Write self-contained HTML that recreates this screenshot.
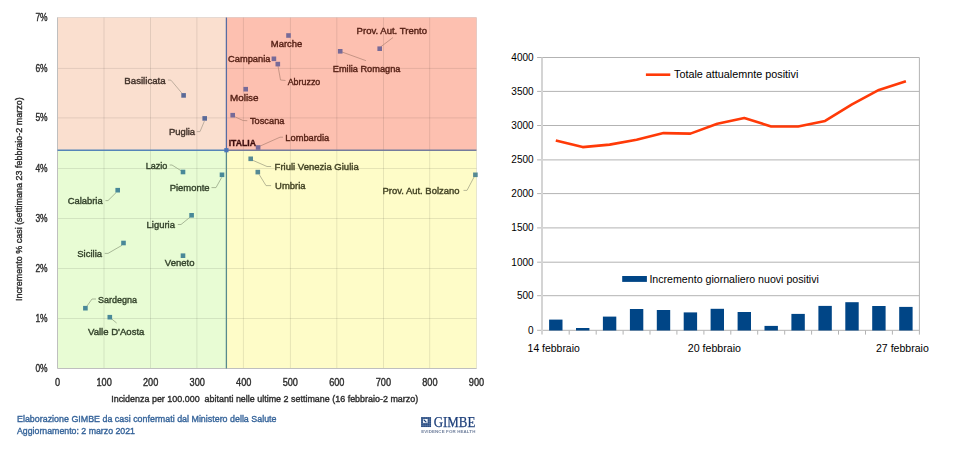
<!DOCTYPE html><html><head><meta charset="utf-8"><style>html,body{margin:0;padding:0;background:#fff;}svg{display:block;}text{font-family:"Liberation Sans",sans-serif;}</style></head><body>
<svg width="980" height="450" viewBox="0 0 980 450">
<defs><filter id="bl" x="0" y="0" width="500" height="450" filterUnits="userSpaceOnUse"><feGaussianBlur stdDeviation="0.32"/></filter></defs>
<rect width="980" height="450" fill="#fff"/>
<g filter="url(#bl)"><rect x="0" y="0" width="500" height="450" fill="#fff"/>
<rect x="57.5" y="17.5" width="168.9" height="132.7" fill="#fadfcf"/>
<rect x="226.4" y="17.5" width="250.1" height="132.7" fill="#fdc0b0"/>
<rect x="57.5" y="150.2" width="168.9" height="218.3" fill="#e8fcd4"/>
<rect x="226.4" y="150.2" width="250.1" height="218.3" fill="#fefcc8"/>
<path d="M104.0 17.5V368.5 M150.5 17.5V368.5 M196.9 17.5V368.5 M243.4 17.5V368.5 M290.4 17.5V368.5 M336.8 17.5V368.5 M383.5 17.5V368.5 M429.7 17.5V368.5 M57.5 318.5H476.5 M57.5 268.5H476.5 M57.5 218.5H476.5 M57.5 168.5H476.5 M57.5 117.9H476.5 M57.5 68.4H476.5" stroke="#000" stroke-opacity="0.095" stroke-width="1" fill="none"/>
<path d="M57.5 17.5V368.5H476.5" stroke="#bfbfbf" stroke-width="1" fill="none"/>
<path d="M57.5 17.5H476.5V368.5" stroke="#000" stroke-opacity="0.09" stroke-width="1" fill="none"/>
<path d="M226.4 17.5V150.2" stroke="#586ca2" stroke-width="1.3" fill="none"/>
<path d="M226.4 150.2V368.5" stroke="#588a8c" stroke-width="1.3" fill="none"/>
<path d="M57.5 150.2H226.4" stroke="#5585b8" stroke-width="1.5" fill="none"/>
<path d="M226.4 150.2H476.5" stroke="#747c9c" stroke-width="1.5" fill="none"/>
<path d="M380.5 47 L393 37.5" stroke="#c09080" stroke-width="0.9" fill="none"/>
<path d="M342 52 L366 60.7" stroke="#c09080" stroke-width="0.9" fill="none"/>
<path d="M278 66 L280.5 80 L285.5 80.5" stroke="#c09080" stroke-width="0.9" fill="none"/>
<path d="M234.7 116.7 L243 120.5 L247.3 120.7" stroke="#c09080" stroke-width="0.9" fill="none"/>
<path d="M258.7 146.7 L280 137.2 L283 137.2" stroke="#c09080" stroke-width="0.9" fill="none"/>
<path d="M167.9 80 L171 80.2 L182.1 93.4" stroke="#b8a898" stroke-width="0.9" fill="none"/>
<path d="M196.7 131.6 L200 131.6 L204.4 121.1" stroke="#b8a898" stroke-width="0.9" fill="none"/>
<path d="M169.7 165 L172 165 L181.2 170.8" stroke="#a0b090" stroke-width="0.9" fill="none"/>
<path d="M211.5 187.6 L216 187.6 L221.7 177.4" stroke="#a0b090" stroke-width="0.9" fill="none"/>
<path d="M105.5 200.6 L108 200.6 L116.2 192.5" stroke="#a0b090" stroke-width="0.9" fill="none"/>
<path d="M177.8 224.5 L181 224.5 L189.9 217.3" stroke="#a0b090" stroke-width="0.9" fill="none"/>
<path d="M104.7 253.4 L108 253.4 L122 245.3" stroke="#a0b090" stroke-width="0.9" fill="none"/>
<path d="M96 299 L92 299 L87 306" stroke="#a0b090" stroke-width="0.9" fill="none"/>
<path d="M111 318.4 L116.6 323" stroke="#a0b090" stroke-width="0.9" fill="none"/>
<path d="M252.5 160.2 L267 166.5 L271.1 166.5" stroke="#b0b090" stroke-width="0.9" fill="none"/>
<path d="M259.2 174.5 L266 185.6 L271.1 185.6" stroke="#b0b090" stroke-width="0.9" fill="none"/>
<path d="M463.5 190.4 L467 190.4 L474 177.1" stroke="#b0b090" stroke-width="0.9" fill="none"/>
<rect x="377.4" y="46.4" width="4.6" height="4.6" fill="#776a98"/>
<rect x="286.2" y="33.2" width="4.6" height="4.6" fill="#776a98"/>
<rect x="271.6" y="56.5" width="4.6" height="4.6" fill="#776a98"/>
<rect x="337.9" y="49.0" width="4.6" height="4.6" fill="#776a98"/>
<rect x="275.5" y="61.8" width="4.6" height="4.6" fill="#776a98"/>
<rect x="243.4" y="86.9" width="4.6" height="4.6" fill="#776a98"/>
<rect x="230.4" y="112.9" width="4.6" height="4.6" fill="#776a98"/>
<rect x="255.8" y="145.2" width="4.6" height="4.6" fill="#776a98"/>
<rect x="181.3" y="93.1" width="4.6" height="4.6" fill="#5a6a98"/>
<rect x="202.4" y="116.1" width="4.6" height="4.6" fill="#5a6a98"/>
<rect x="180.7" y="169.7" width="4.6" height="4.6" fill="#488898"/>
<rect x="219.7" y="172.5" width="4.6" height="4.6" fill="#488898"/>
<rect x="115.4" y="187.9" width="4.6" height="4.6" fill="#488898"/>
<rect x="189.3" y="213.0" width="4.6" height="4.6" fill="#488898"/>
<rect x="121.2" y="240.7" width="4.6" height="4.6" fill="#488898"/>
<rect x="180.7" y="253.4" width="4.6" height="4.6" fill="#488898"/>
<rect x="83.1" y="305.9" width="4.6" height="4.6" fill="#488898"/>
<rect x="107.5" y="314.9" width="4.6" height="4.6" fill="#488898"/>
<rect x="248.4" y="156.5" width="4.6" height="4.6" fill="#568a94"/>
<rect x="255.5" y="169.8" width="4.6" height="4.6" fill="#568a94"/>
<rect x="473.1" y="172.5" width="4.6" height="4.6" fill="#568a94"/>
<rect x="224.3" y="148.1" width="4.2" height="4.2" fill="#4a75b8"/>
<text x="356.6" y="33.5" font-size="9.2" fill="#541f14" stroke="#541f14" stroke-width="0.38" textLength="70.4" lengthAdjust="spacingAndGlyphs">Prov. Aut. Trento</text>
<text x="270.8" y="47.0" font-size="9.2" fill="#541f14" stroke="#541f14" stroke-width="0.38" textLength="31.4" lengthAdjust="spacingAndGlyphs">Marche</text>
<text x="228.0" y="62.0" font-size="9.2" fill="#541f14" stroke="#541f14" stroke-width="0.38" textLength="42.4" lengthAdjust="spacingAndGlyphs">Campania</text>
<text x="332.8" y="72.0" font-size="9.2" fill="#541f14" stroke="#541f14" stroke-width="0.38" textLength="67.6" lengthAdjust="spacingAndGlyphs">Emilia Romagna</text>
<text x="287.7" y="84.9" font-size="9.2" fill="#541f14" stroke="#541f14" stroke-width="0.38" textLength="32.6" lengthAdjust="spacingAndGlyphs">Abruzzo</text>
<text x="230.0" y="100.6" font-size="9.2" fill="#541f14" stroke="#541f14" stroke-width="0.38" textLength="28.5" lengthAdjust="spacingAndGlyphs">Molise</text>
<text x="250.0" y="124.2" font-size="9.2" fill="#541f14" stroke="#541f14" stroke-width="0.38" textLength="34.4" lengthAdjust="spacingAndGlyphs">Toscana</text>
<text x="285.3" y="141.2" font-size="9.2" fill="#541f14" stroke="#541f14" stroke-width="0.38" textLength="44.0" lengthAdjust="spacingAndGlyphs">Lombardia</text>
<text x="124.3" y="83.6" font-size="9.2" fill="#42322a" stroke="#42322a" stroke-width="0.38" textLength="41.4" lengthAdjust="spacingAndGlyphs">Basilicata</text>
<text x="168.9" y="134.7" font-size="9.2" fill="#42322a" stroke="#42322a" stroke-width="0.38" textLength="26.2" lengthAdjust="spacingAndGlyphs">Puglia</text>
<text x="145.7" y="169.3" font-size="9.2" fill="#33422b" stroke="#33422b" stroke-width="0.38" textLength="21.7" lengthAdjust="spacingAndGlyphs">Lazio</text>
<text x="169.7" y="190.7" font-size="9.2" fill="#33422b" stroke="#33422b" stroke-width="0.38" textLength="39.9" lengthAdjust="spacingAndGlyphs">Piemonte</text>
<text x="67.7" y="203.7" font-size="9.2" fill="#33422b" stroke="#33422b" stroke-width="0.38" textLength="35.0" lengthAdjust="spacingAndGlyphs">Calabria</text>
<text x="146.6" y="227.6" font-size="9.2" fill="#33422b" stroke="#33422b" stroke-width="0.38" textLength="28.3" lengthAdjust="spacingAndGlyphs">Liguria</text>
<text x="77.2" y="257.1" font-size="9.2" fill="#33422b" stroke="#33422b" stroke-width="0.38" textLength="24.9" lengthAdjust="spacingAndGlyphs">Sicilia</text>
<text x="164.8" y="265.8" font-size="9.2" fill="#33422b" stroke="#33422b" stroke-width="0.38" textLength="29.7" lengthAdjust="spacingAndGlyphs">Veneto</text>
<text x="98.0" y="302.7" font-size="9.2" fill="#33422b" stroke="#33422b" stroke-width="0.38" textLength="39.0" lengthAdjust="spacingAndGlyphs">Sardegna</text>
<text x="88.0" y="334.7" font-size="9.2" fill="#33422b" stroke="#33422b" stroke-width="0.38" textLength="56.4" lengthAdjust="spacingAndGlyphs">Valle D&#39;Aosta</text>
<text x="274.6" y="169.6" font-size="9.2" fill="#434324" stroke="#434324" stroke-width="0.38" textLength="84.1" lengthAdjust="spacingAndGlyphs">Friuli Venezia Giulia</text>
<text x="275.1" y="188.7" font-size="9.2" fill="#434324" stroke="#434324" stroke-width="0.38" textLength="30.5" lengthAdjust="spacingAndGlyphs">Umbria</text>
<text x="382.5" y="194.1" font-size="9.2" fill="#434324" stroke="#434324" stroke-width="0.38" textLength="77.0" lengthAdjust="spacingAndGlyphs">Prov. Aut. Bolzano</text>
<text x="228.7" y="146.2" font-size="8.6" font-weight="bold" fill="#3e0e0e" stroke="#3e0e0e" stroke-width="0.3" textLength="27.3" lengthAdjust="spacingAndGlyphs">ITALIA</text>
<text x="47.6" y="372.0" font-size="10" fill="#2e2e2e" stroke="#2e2e2e" stroke-width="0.38" text-anchor="end" textLength="12.2" lengthAdjust="spacingAndGlyphs">0%</text>
<text x="47.6" y="322.0" font-size="10" fill="#2e2e2e" stroke="#2e2e2e" stroke-width="0.38" text-anchor="end" textLength="12.2" lengthAdjust="spacingAndGlyphs">1%</text>
<text x="47.6" y="272.0" font-size="10" fill="#2e2e2e" stroke="#2e2e2e" stroke-width="0.38" text-anchor="end" textLength="12.2" lengthAdjust="spacingAndGlyphs">2%</text>
<text x="47.6" y="222.0" font-size="10" fill="#2e2e2e" stroke="#2e2e2e" stroke-width="0.38" text-anchor="end" textLength="12.2" lengthAdjust="spacingAndGlyphs">3%</text>
<text x="47.6" y="172.0" font-size="10" fill="#2e2e2e" stroke="#2e2e2e" stroke-width="0.38" text-anchor="end" textLength="12.2" lengthAdjust="spacingAndGlyphs">4%</text>
<text x="47.6" y="121.4" font-size="10" fill="#2e2e2e" stroke="#2e2e2e" stroke-width="0.38" text-anchor="end" textLength="12.2" lengthAdjust="spacingAndGlyphs">5%</text>
<text x="47.6" y="71.9" font-size="10" fill="#2e2e2e" stroke="#2e2e2e" stroke-width="0.38" text-anchor="end" textLength="12.2" lengthAdjust="spacingAndGlyphs">6%</text>
<text x="47.6" y="21.0" font-size="10" fill="#2e2e2e" stroke="#2e2e2e" stroke-width="0.38" text-anchor="end" textLength="12.2" lengthAdjust="spacingAndGlyphs">7%</text>
<text x="57.5" y="385.9" font-size="10" fill="#2e2e2e" stroke="#2e2e2e" stroke-width="0.38" text-anchor="middle" textLength="5.1" lengthAdjust="spacingAndGlyphs">0</text>
<text x="104.1" y="385.9" font-size="10" fill="#2e2e2e" stroke="#2e2e2e" stroke-width="0.38" text-anchor="middle" textLength="15.3" lengthAdjust="spacingAndGlyphs">100</text>
<text x="150.6" y="385.9" font-size="10" fill="#2e2e2e" stroke="#2e2e2e" stroke-width="0.38" text-anchor="middle" textLength="15.3" lengthAdjust="spacingAndGlyphs">200</text>
<text x="197.2" y="385.9" font-size="10" fill="#2e2e2e" stroke="#2e2e2e" stroke-width="0.38" text-anchor="middle" textLength="15.3" lengthAdjust="spacingAndGlyphs">300</text>
<text x="243.7" y="385.9" font-size="10" fill="#2e2e2e" stroke="#2e2e2e" stroke-width="0.38" text-anchor="middle" textLength="15.3" lengthAdjust="spacingAndGlyphs">400</text>
<text x="290.3" y="385.9" font-size="10" fill="#2e2e2e" stroke="#2e2e2e" stroke-width="0.38" text-anchor="middle" textLength="15.3" lengthAdjust="spacingAndGlyphs">500</text>
<text x="336.8" y="385.9" font-size="10" fill="#2e2e2e" stroke="#2e2e2e" stroke-width="0.38" text-anchor="middle" textLength="15.3" lengthAdjust="spacingAndGlyphs">600</text>
<text x="383.4" y="385.9" font-size="10" fill="#2e2e2e" stroke="#2e2e2e" stroke-width="0.38" text-anchor="middle" textLength="15.3" lengthAdjust="spacingAndGlyphs">700</text>
<text x="429.9" y="385.9" font-size="10" fill="#2e2e2e" stroke="#2e2e2e" stroke-width="0.38" text-anchor="middle" textLength="15.3" lengthAdjust="spacingAndGlyphs">800</text>
<text x="476.5" y="385.9" font-size="10" fill="#2e2e2e" stroke="#2e2e2e" stroke-width="0.38" text-anchor="middle" textLength="15.3" lengthAdjust="spacingAndGlyphs">900</text>
<text x="111.2" y="402.1" font-size="9.2" fill="#2e2e2e" stroke="#2e2e2e" stroke-width="0.38" textLength="307" lengthAdjust="spacingAndGlyphs">Incidenza per 100.000&#160; abitanti nelle ultime 2 settimane (16 febbraio-2 marzo)</text>
<text transform="translate(21.9,301.1) rotate(-90)" x="0" y="0" font-size="9.2" fill="#2e2e2e" stroke="#2e2e2e" stroke-width="0.38" textLength="203.8" lengthAdjust="spacingAndGlyphs">Incremento % casi (settimana 23 febbraio-2 marzo)</text>
<text x="17" y="421.8" font-size="9.8" fill="#36649a" stroke="#36649a" stroke-width="0.38" textLength="259.5" lengthAdjust="spacingAndGlyphs">Elaborazione GIMBE da casi confermati dal Ministero della Salute</text>
<text x="17" y="433.8" font-size="9.8" fill="#36649a" stroke="#36649a" stroke-width="0.38" textLength="118" lengthAdjust="spacingAndGlyphs">Aggiornamento: 2 marzo 2021</text>
<rect x="421.0" y="417.0" width="10.1" height="10.1" fill="#9fb4d4"/><rect x="421.20" y="417.20" width="1.65" height="1.65" fill="#163a72"/><rect x="421.20" y="419.22" width="1.65" height="1.65" fill="#163a72"/><rect x="421.20" y="421.24" width="1.65" height="1.65" fill="#163a72"/><rect x="421.20" y="423.26" width="1.65" height="1.65" fill="#163a72"/><rect x="421.20" y="425.28" width="1.65" height="1.65" fill="#163a72"/><rect x="423.22" y="417.20" width="1.65" height="1.65" fill="#163a72"/><rect x="423.22" y="419.22" width="1.65" height="1.65" fill="#163a72"/><rect x="423.22" y="421.24" width="1.65" height="1.65" fill="#163a72"/><rect x="423.22" y="423.26" width="1.65" height="1.65" fill="#163a72"/><rect x="423.22" y="425.28" width="1.65" height="1.65" fill="#163a72"/><rect x="425.24" y="417.20" width="1.65" height="1.65" fill="#163a72"/><rect x="425.24" y="419.22" width="1.65" height="1.65" fill="#163a72"/><rect x="425.24" y="421.24" width="1.65" height="1.65" fill="#163a72"/><rect x="425.24" y="423.26" width="1.65" height="1.65" fill="#163a72"/><rect x="425.24" y="425.28" width="1.65" height="1.65" fill="#163a72"/><rect x="427.26" y="417.20" width="1.65" height="1.65" fill="#163a72"/><rect x="427.26" y="419.22" width="1.65" height="1.65" fill="#163a72"/><rect x="427.26" y="421.24" width="1.65" height="1.65" fill="#163a72"/><rect x="427.26" y="423.26" width="1.65" height="1.65" fill="#163a72"/><rect x="427.26" y="425.28" width="1.65" height="1.65" fill="#163a72"/><rect x="429.28" y="417.20" width="1.65" height="1.65" fill="#163a72"/><rect x="429.28" y="419.22" width="1.65" height="1.65" fill="#163a72"/><rect x="429.28" y="421.24" width="1.65" height="1.65" fill="#163a72"/><rect x="429.28" y="423.26" width="1.65" height="1.65" fill="#163a72"/><rect x="429.28" y="425.28" width="1.65" height="1.65" fill="#163a72"/><rect x="423.0" y="419.0" width="4.6" height="3.9" fill="#f4f8fc"/><path d="M424.0 420.0 L426.0 421.9" stroke="#163a72" stroke-width="1.1" stroke-linecap="round"/>
<text x="433.7" y="427.2" font-size="15.4" fill="#1d3f7a" stroke="#1d3f7a" stroke-width="0.25" textLength="41.6" lengthAdjust="spacingAndGlyphs" style="font-family:'Liberation Serif',serif">GIMBE</text>
<text x="421.2" y="432.7" font-size="4.4" font-weight="bold" fill="#6f7f9c" textLength="54.1" lengthAdjust="spacing">EVIDENCE FOR HEALTH</text>
</g>
<path d="M537.1 330.3H919.4 M537.1 295.7H919.4 M537.1 262.2H919.4 M537.1 227.9H919.4 M537.1 193.6H919.4 M537.1 159.9H919.4 M537.1 125.5H919.4 M537.1 91.4H919.4 M537.1 57.5H919.4" stroke="#b3b3b3" stroke-width="1" fill="none"/>
<path d="M919.4 57.5V334.6" stroke="#b3b3b3" stroke-width="1" fill="none"/>
<path d="M569.2 330.5V334.6M596.2 330.5V334.6M623.1 330.5V334.6M650.0 330.5V334.6M676.9 330.5V334.6M703.9 330.5V334.6M730.8 330.5V334.6M757.7 330.5V334.6M784.7 330.5V334.6M811.6 330.5V334.6M838.5 330.5V334.6M865.5 330.5V334.6M892.4 330.5V334.6" stroke="#b3b3b3" stroke-width="1" fill="none"/>
<path d="M542.0 57.5V334.6" stroke="#d4d4d4" stroke-width="2" fill="none"/>
<rect x="549.1" y="319.6" width="13.4" height="10.9" fill="#004586"/>
<rect x="576.0" y="328.0" width="13.4" height="2.5" fill="#004586"/>
<rect x="602.9" y="316.6" width="13.4" height="13.9" fill="#004586"/>
<rect x="629.9" y="309.0" width="13.4" height="21.5" fill="#004586"/>
<rect x="656.8" y="310.0" width="13.4" height="20.5" fill="#004586"/>
<rect x="683.7" y="312.4" width="13.4" height="18.1" fill="#004586"/>
<rect x="710.6" y="308.8" width="13.4" height="21.7" fill="#004586"/>
<rect x="737.6" y="312.0" width="13.4" height="18.5" fill="#004586"/>
<rect x="764.5" y="325.9" width="13.4" height="4.6" fill="#004586"/>
<rect x="791.4" y="313.9" width="13.4" height="16.6" fill="#004586"/>
<rect x="818.4" y="305.9" width="13.4" height="24.6" fill="#004586"/>
<rect x="845.3" y="302.2" width="13.4" height="28.3" fill="#004586"/>
<rect x="872.2" y="306.0" width="13.4" height="24.5" fill="#004586"/>
<rect x="899.2" y="306.9" width="13.4" height="23.6" fill="#004586"/>
<path d="M555.8 140.4 L582.7 147.1 L609.6 144.6 L636.6 139.7 L663.5 133.1 L690.4 133.6 L717.3 123.8 L744.3 118.0 L771.2 126.5 L798.1 126.5 L825.1 120.9 L852.0 104.3 L878.9 89.9 L905.9 81.3" stroke="#ff3a08" stroke-width="2.6" fill="none" stroke-linejoin="round"/>
<text x="533.6" y="333.7" font-size="10" fill="#000" text-anchor="end">0</text>
<text x="533.6" y="299.1" font-size="10" fill="#000" text-anchor="end">500</text>
<text x="533.6" y="265.6" font-size="10" fill="#000" text-anchor="end">1000</text>
<text x="533.6" y="231.3" font-size="10" fill="#000" text-anchor="end">1500</text>
<text x="533.6" y="197.0" font-size="10" fill="#000" text-anchor="end">2000</text>
<text x="533.6" y="163.3" font-size="10" fill="#000" text-anchor="end">2500</text>
<text x="533.6" y="128.9" font-size="10" fill="#000" text-anchor="end">3000</text>
<text x="533.6" y="94.8" font-size="10" fill="#000" text-anchor="end">3500</text>
<text x="533.6" y="60.9" font-size="10" fill="#000" text-anchor="end">4000</text>
<text x="527.6" y="352.1" font-size="10" fill="#000" textLength="52.2" lengthAdjust="spacingAndGlyphs">14 febbraio</text>
<text x="687.8" y="352.1" font-size="10" fill="#000" textLength="53.2" lengthAdjust="spacingAndGlyphs">20 febbraio</text>
<text x="876.0" y="352.1" font-size="10" fill="#000" textLength="52.8" lengthAdjust="spacingAndGlyphs">27 febbraio</text>
<path d="M645.9 74.7H670.3" stroke="#ff3a08" stroke-width="2.6"/>
<text x="674" y="78.3" font-size="11" fill="#000" textLength="124.3" lengthAdjust="spacingAndGlyphs">Totale attualemnte positivi</text>
<rect x="622.2" y="276" width="24.7" height="5.9" fill="#004586"/>
<text x="649.4" y="283.1" font-size="11" fill="#000" textLength="169.5" lengthAdjust="spacingAndGlyphs">Incremento giornaliero nuovi positivi</text>
</svg></body></html>
